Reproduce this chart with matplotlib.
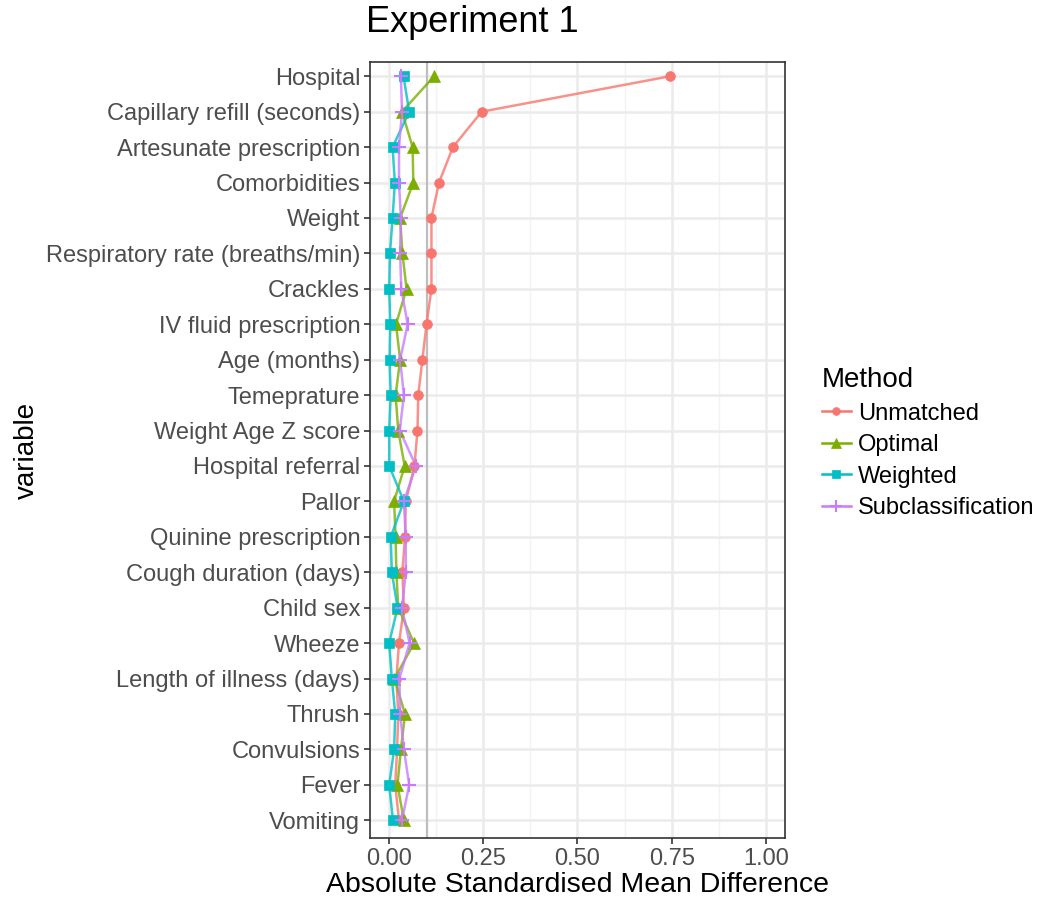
import matplotlib
matplotlib.use("Agg")
import matplotlib.pyplot as plt
from matplotlib.lines import Line2D
import numpy as np

plt.rcParams['font.family'] = ['Liberation Sans', 'DejaVu Sans']

variables = ["Hospital", "Capillary refill (seconds)", "Artesunate prescription",
             "Comorbidities", "Weight", "Respiratory rate (breaths/min)", "Crackles",
             "IV fluid prescription", "Age (months)", "Temeprature", "Weight Age Z score",
             "Hospital referral", "Pallor", "Quinine prescription", "Cough duration (days)",
             "Child sex", "Wheeze", "Length of illness (days)", "Thrush", "Convulsions",
             "Fever", "Vomiting"]

unmatched = [0.745, 0.246, 0.170, 0.133, 0.113, 0.113, 0.113, 0.100, 0.089, 0.078, 0.076,
             0.068, 0.045, 0.043, 0.036, 0.040, 0.027, 0.020, 0.025, 0.022, 0.017, 0.027]
optimal = [0.120, 0.035, 0.063, 0.065, 0.030, 0.036, 0.047, 0.019, 0.030, 0.018, 0.025,
           0.042, 0.014, 0.018, 0.020, 0.025, 0.067, 0.015, 0.043, 0.032, 0.023, 0.040]
weighted = [0.039, 0.054, 0.010, 0.016, 0.010, 0.003, 0.001, 0.004, 0.002, 0.005, 0.001,
            0.001, 0.040, 0.005, 0.008, 0.023, 0.001, 0.008, 0.017, 0.014, 0.001, 0.011]
subclass = [0.032, 0.035, 0.027, 0.027, 0.032, 0.030, 0.033, 0.050, 0.030, 0.040, 0.029,
            0.072, 0.040, 0.045, 0.045, 0.035, 0.055, 0.028, 0.030, 0.040, 0.054, 0.035]

methods = ["Unmatched", "Optimal", "Weighted", "Subclassification"]
series = [unmatched, optimal, weighted, subclass]
colors = ["#F8766D", "#7CAE00", "#00BFC4", "#C77CFF"]
markers = ["o", "^", "s", "+"]
msizes = [7, 8.5, 7, 10]

x_ticks = [0.0, 0.25, 0.5, 0.75, 1.0]
x_ticklabels = ["0.00", "0.25", "0.50", "0.75", "1.00"]
threshold = 0.1

fig = plt.figure(figsize=(10.43, 9), dpi=100)
ax = fig.add_axes([0.3547, 0.0689, 0.7526 - 0.3547, 0.931 - 0.0689])

n = len(variables)
ypos = np.arange(n)[::-1]

# grid
for v in np.arange(0.125, 1.0, 0.25):
    ax.axvline(v, color="#F2F2F2", lw=1.0, zorder=0)
for v in x_ticks:
    ax.axvline(v, color="#EBEBEB", lw=1.8, zorder=0)
for y in ypos:
    ax.axhline(y, color="#EBEBEB", lw=1.8, zorder=0)

ax.axvline(threshold, color="#BEBEBE", lw=1.6, zorder=1)

for vals, c, m, ms in zip(series, colors, markers, msizes):
    ax.plot(vals, ypos, color=c, lw=1.8, alpha=0.8, zorder=2)
for vals, c, m, ms in zip(series, colors, markers, msizes):
    ax.plot(vals, ypos, linestyle="none", marker=m, color=c, markersize=ms,
            markeredgewidth=1.5 if m == "+" else 0.5, zorder=3)

ax.set_xlim(-0.05, 1.05)
ax.set_ylim(-0.5, n - 0.6)
ax.set_xticks(x_ticks)
ax.set_xticklabels(x_ticklabels)
ax.set_yticks(ypos)
ax.set_yticklabels(variables)
ax.tick_params(axis="both", colors="#333333", labelcolor="#4D4D4D", labelsize=17,
               length=4, width=1.2, direction="out", pad=3)
for s in ax.spines.values():
    s.set_color("#333333")
    s.set_linewidth(1.2)

ax.set_xlabel("Absolute Standardised Mean Difference", fontsize=20.5, color="black", labelpad=2)
fig.text(0.026, 0.5, "variable", rotation=90, va="center", ha="center",
         fontsize=20, color="black")
ax.set_title("Experiment 1", fontsize=26, loc="left", pad=22, x=-0.01)

handles = [Line2D([0], [0], color=c, marker=m, markersize=ms * 0.8, lw=1.8,
                  markeredgewidth=1.5 if m == "+" else 0.5)
           for c, m, ms in zip(colors, markers, msizes)]
leg = fig.legend(handles, methods, loc="upper left", bbox_to_anchor=(0.777, 0.605),
                 frameon=False, fontsize=17, title="Method", title_fontsize=20,
                 handlelength=1.2, handletextpad=0.3, labelspacing=0.40,
                 alignment="left", borderpad=0)
for t in leg.get_texts():
    t.set_color("black")

fig.savefig("out.png", dpi=100)
